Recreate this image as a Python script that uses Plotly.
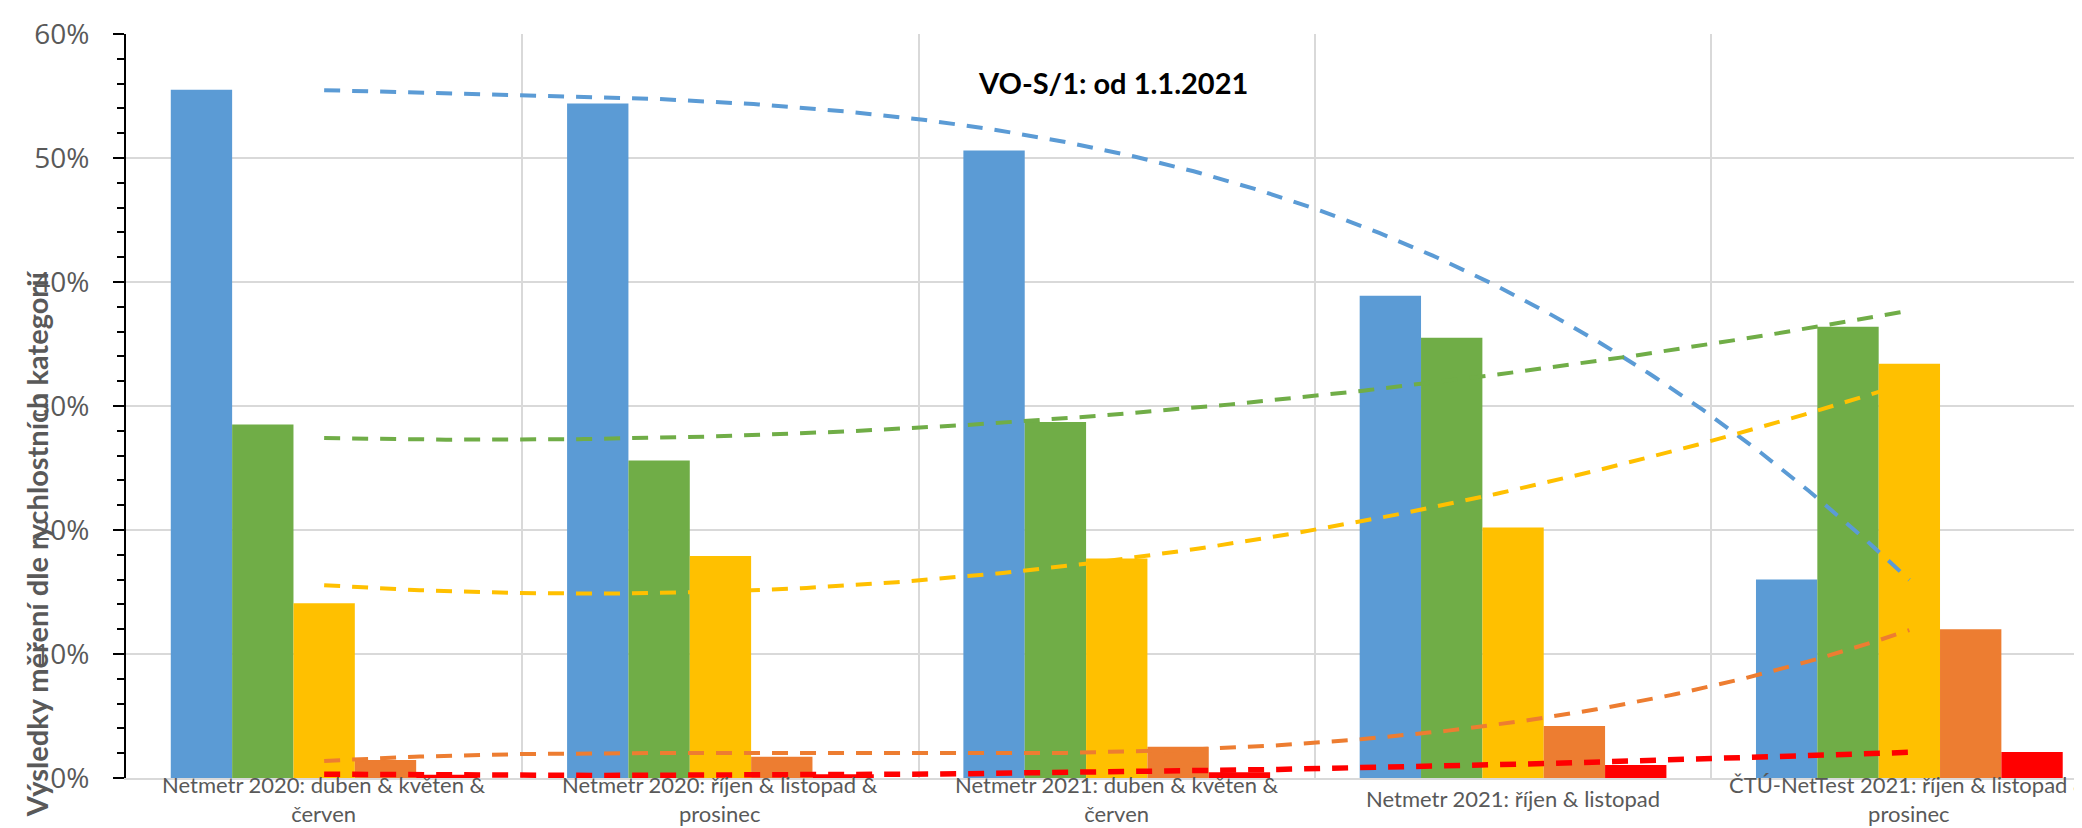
import numpy as np
import plotly.graph_objects as go

# ---- data ----
categories = [
    "Netmetr 2020: duben & květen &<br>červen",
    "Netmetr 2020: říjen & listopad &<br>prosinec",
    "Netmetr 2021: duben & květen &<br>červen",
    "Netmetr 2021: říjen & listopad",
    "ČTÚ-NetTest 2021: říjen & listopad &<br>prosinec",
]
series_names = ["Kategorie 1", "Kategorie 2", "Kategorie 3", "Kategorie 4", "Kategorie 5"]
blue_vals = [55.5, 54.4, 50.6, 38.9, 16.0]
green_vals = [28.5, 25.6, 28.7, 35.5, 36.4]
yellow_vals = [14.1, 17.9, 17.7, 20.2, 33.4]
orange_vals = [1.45, 1.72, 2.53, 4.2, 12.0]
red_vals = [0.27, 0.3, 0.46, 1.05, 2.1]
y_ticks = [0, 10, 20, 30, 40, 50, 60]
y_ticktext = [f"{v}%" for v in y_ticks]
chart_title = "VO-S/1: od 1.1.2021"
y_title = "Výsledky měření dle rychlostních kategorií"

# ---- style ----
colors = ["#5B9BD5", "#70AD47", "#FFC000", "#ED7D31", "#FF0000"]
trend_order = [3, 2, 2, 3, 2]
trend_width = [4, 4, 4, 4, 5.5]
all_vals = [blue_vals, green_vals, yellow_vals, orange_vals, red_vals]

W, H = 2082, 828
L, T, B = 118, 25.5, 58
plot_w = W - L
plot_h = H - T - B
cat_px = 396.3
n = len(categories)
x_idx = np.arange(n)
x_max = -0.5 + plot_w / cat_px

fig = go.Figure()
for name, vals, c in zip(series_names, all_vals, colors):
    fig.add_trace(go.Bar(x=x_idx, y=vals, name=name, marker=dict(color=c, line=dict(width=0)),
                         showlegend=False))

xs = np.linspace(0, n - 1, 300)
for name, vals, c, o, w in zip(series_names, all_vals, colors, trend_order, trend_width):
    coef = np.polyfit(x_idx, vals, o)
    fig.add_trace(go.Scatter(x=xs, y=np.polyval(coef, xs), mode="lines",
                             line=dict(color=c, width=w, dash="16px,12px"),
                             showlegend=False, hoverinfo="skip"))

annotations = []
for i, cat in enumerate(categories):
    annotations.append(dict(x=i, y=-(791 - 770) / plot_h, xref="x", yref="paper",
                            text=cat, showarrow=False, xanchor="center", yanchor="middle",
                            font=dict(family="Lato", size=22, color="#595959")))
annotations.append(dict(x=(1104.5 - L) / plot_w, y=(770 - 74) / plot_h, xref="paper", yref="paper",
                        text="<b>" + chart_title + "</b>", showarrow=False,
                        xanchor="center", yanchor="middle",
                        font=dict(family="Lato", size=29, color="#000000")))
annotations.append(dict(x=(28 - L) / plot_w, y=(770 - 536) / plot_h, xref="paper", yref="paper",
                        text="<b>" + y_title + "</b>", showarrow=False, textangle=-90,
                        xanchor="center", yanchor="middle",
                        font=dict(family="Lato", size=29, color="#595959")))

fig.update_layout(
    width=W, height=H,
    margin=dict(l=L, r=0, t=T, b=B, pad=0),
    paper_bgcolor="white", plot_bgcolor="white",
    barmode="group", bargap=0.226, bargroupgap=0,
    showlegend=False,
    annotations=annotations,
    xaxis=dict(range=[-0.5, x_max], tickvals=list(x_idx[:-1] + 0.5), showticklabels=False,
               ticks="", showgrid=True, gridcolor="#D9D9D9", gridwidth=1.5,
               zeroline=False, showline=True, linecolor="#D9D9D9", linewidth=1.5),
    yaxis=dict(range=[0, 60], tickmode="array", tickvals=y_ticks, ticktext=y_ticktext,
               tickfont=dict(family="Open Sans", size=28, color="#595959"),
               showgrid=True, gridcolor="#D9D9D9", gridwidth=1.5, zeroline=False,
               showline=True, linecolor="black", linewidth=2,
               ticks="outside", ticklen=11, tickwidth=2, tickcolor="black",
               ticklabelstandoff=18,
               minor=dict(dtick=2, ticks="outside", ticklen=7, tickwidth=2,
                          tickcolor="black", showgrid=False)),
)

fig.write_html("out.html")
